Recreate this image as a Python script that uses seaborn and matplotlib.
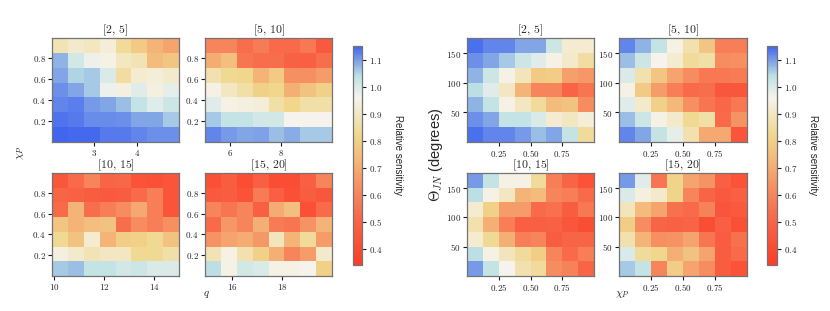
"""Relative sensitivity heatmaps binned by mass ratio q (left) and theta_JN (right)."""
import numpy as np
import pandas as pd
import matplotlib
matplotlib.use('Agg')
import matplotlib.pyplot as plt
import seaborn as sns
from matplotlib.colors import LinearSegmentedColormap

# q bins shown as panel titles
bin_titles = ['[2, 5]', '[5, 10]', '[10, 15]', '[15, 20]']
q_ranges = [(2.0, 5.0), (5.0, 10.0), (9.9, 15.0), (14.9, 20.0)]
q_ticks = [[3, 4], [6, 8], [10, 12, 14], [16, 18]]

chi_range = (0.0, 0.99)
chi_ticks = [0.2, 0.4, 0.6, 0.8]
chi_x_range = (0.0, 1.0)
chi_x_ticks = [0.25, 0.50, 0.75]
theta_range = (0.0, 176.0)
theta_ticks = [50, 100, 150]

# left group: rows = chi_p (top -> bottom), cols = q
sens_q_2_5 = [
    [0.88, 0.91, 0.90, 0.93, 0.84, 0.78, 0.72, 0.68],
    [1.08, 1.01, 0.97, 0.95, 0.90, 0.88, 0.74, 0.77],
    [1.09, 1.05, 1.06, 1.00, 0.85, 0.92, 0.93, 0.91],
    [1.11, 1.09, 1.06, 0.97, 0.94, 0.99, 0.94, 0.98],
    [1.12, 1.125, 1.10, 1.09, 1.07, 1.03, 0.99, 1.02],
    [1.135, 1.13, 1.115, 1.115, 1.11, 1.09, 1.09, 1.06],
    [1.15, 1.145, 1.145, 1.13, 1.13, 1.12, 1.11, 1.11],
]
sens_q_5_10 = [
    [0.60, 0.60, 0.53, 0.57, 0.52, 0.52, 0.56, 0.46],
    [0.70, 0.75, 0.55, 0.53, 0.53, 0.49, 0.48, 0.53],
    [0.87, 0.83, 0.82, 0.72, 0.78, 0.63, 0.63, 0.66],
    [0.95, 0.90, 0.86, 0.80, 0.82, 0.71, 0.76, 0.80],
    [0.99, 0.95, 0.94, 0.93, 0.86, 0.82, 0.86, 0.86],
    [1.06, 1.03, 1.03, 1.01, 1.01, 0.96, 0.96, 0.96],
    [1.12, 1.10, 1.09, 1.095, 1.07, 1.085, 1.06, 1.06],
]
sens_q_10_15 = [
    [0.45, 0.52, 0.60, 0.50, 0.51, 0.43, 0.42, 0.44],
    [0.50, 0.49, 0.47, 0.46, 0.47, 0.52, 0.58, 0.44],
    [0.52, 0.72, 0.53, 0.58, 0.62, 0.69, 0.58, 0.44],
    [0.77, 0.72, 0.75, 0.76, 0.53, 0.62, 0.58, 0.63],
    [0.83, 0.76, 0.92, 0.72, 0.79, 0.80, 0.83, 0.76],
    [0.94, 0.91, 0.88, 0.90, 0.90, 0.83, 0.83, 0.86],
    [1.06, 1.07, 1.03, 1.03, 1.01, 1.02, 1.00, 1.00],
]
sens_q_15_20 = [
    [0.42, 0.47, 0.41, 0.48, 0.41, 0.41, 0.48, 0.60],
    [0.46, 0.47, 0.43, 0.57, 0.48, 0.42, 0.47, 0.45],
    [0.60, 0.55, 0.60, 0.48, 0.70, 0.75, 0.42, 0.52],
    [0.52, 0.65, 0.60, 0.71, 0.57, 0.55, 0.64, 0.72],
    [0.64, 0.68, 0.70, 0.65, 0.89, 0.72, 0.84, 0.66],
    [0.88, 0.95, 0.87, 0.80, 0.71, 0.60, 0.66, 0.91],
    [1.04, 0.95, 1.01, 1.00, 0.95, 0.95, 0.96, 0.80],
]

# right group: rows = theta_JN (top -> bottom), cols = chi_p
sens_t_2_5 = [
    [1.14, 1.12, 1.12, 1.09, 1.09, 1.02, 0.92, 0.92],
    [1.11, 1.09, 1.06, 1.02, 0.99, 0.95, 0.91, 0.85],
    [1.08, 1.02, 0.95, 0.89, 0.78, 0.79, 0.67, 0.65],
    [1.04, 0.99, 0.90, 0.72, 0.60, 0.60, 0.50, 0.55],
    [1.08, 1.03, 0.95, 0.90, 0.84, 0.74, 0.76, 0.62],
    [1.11, 1.09, 1.03, 1.03, 1.00, 0.92, 0.90, 0.93],
    [1.14, 1.12, 1.12, 1.10, 1.07, 1.09, 1.03, 0.84],
]
sens_t_5_10 = [
    [1.12, 1.08, 1.03, 0.95, 0.87, 0.77, 0.58, 0.58],
    [1.07, 1.02, 0.96, 0.92, 0.84, 0.86, 0.62, 0.63],
    [1.00, 0.87, 0.77, 0.68, 0.62, 0.56, 0.56, 0.57],
    [0.95, 0.78, 0.66, 0.58, 0.52, 0.53, 0.45, 0.45],
    [0.99, 0.91, 0.80, 0.73, 0.63, 0.55, 0.51, 0.56],
    [1.07, 1.02, 0.95, 0.91, 0.83, 0.86, 0.52, 0.64],
    [1.12, 1.09, 1.03, 0.98, 0.87, 0.69, 0.69, 0.44],
]
sens_t_10_15 = [
    [1.10, 1.03, 0.95, 0.95, 0.84, 0.58, 0.50, 0.43],
    [1.04, 0.95, 0.90, 0.72, 0.74, 0.60, 0.58, 0.52],
    [0.92, 0.80, 0.66, 0.66, 0.52, 0.54, 0.47, 0.56],
    [0.87, 0.71, 0.58, 0.48, 0.48, 0.49, 0.45, 0.41],
    [0.92, 0.83, 0.71, 0.58, 0.60, 0.47, 0.50, 0.50],
    [1.04, 0.95, 0.89, 0.84, 0.79, 0.60, 0.52, 0.58],
    [1.10, 1.03, 0.96, 0.87, 0.84, 0.62, 0.59, 0.50],
]
sens_t_15_20 = [
    [1.10, 0.99, 0.55, 0.81, 0.68, 0.64, 0.48, 0.43],
    [1.00, 0.94, 0.91, 0.81, 0.60, 0.50, 0.46, 0.48],
    [0.89, 0.74, 0.68, 0.54, 0.52, 0.59, 0.44, 0.46],
    [0.79, 0.62, 0.50, 0.49, 0.50, 0.41, 0.48, 0.42],
    [0.87, 0.72, 0.63, 0.64, 0.68, 0.55, 0.47, 0.54],
    [1.00, 0.84, 0.82, 0.71, 0.76, 0.68, 0.47, 0.52],
    [1.06, 1.03, 0.60, 0.79, 0.68, 0.62, 0.47, 0.43],
]

left_data = [sens_q_2_5, sens_q_5_10, sens_q_10_15, sens_q_15_20]
right_data = [sens_t_2_5, sens_t_5_10, sens_t_10_15, sens_t_15_20]

VMIN, VMAX = 0.34, 1.15
cbar_ticks = [0.4, 0.5, 0.6, 0.7, 0.8, 0.9, 1.0, 1.1]

sns.set_theme(style='white')
plt.rcParams['font.family'] = ['Liberation Sans', 'DejaVu Sans']
plt.rcParams['mathtext.fontset'] = 'cm'

nodes = [(0.34, '#fc3d26'), (0.50, '#f86446'), (0.62, '#f68c5f'), (0.72, '#f4b478'),
         (0.82, '#f0d78c'), (0.96, '#f5f3ec'), (1.04, '#bee1e4'), (1.09, '#85a8e6'),
         (1.15, '#4065ef')]
cmap = LinearSegmentedColormap.from_list(
    'sens', [((v - VMIN) / (VMAX - VMIN), c) for v, c in nodes])

W, H = 830, 311
fig = plt.figure(figsize=(W / 100, H / 100), dpi=100)


def px_axes(x0, y0, x1, y1):
    return fig.add_axes([x0 / W, 1 - y1 / H, (x1 - x0) / W, (y1 - y0) / H])


def tex(v, fmt='{:g}'):
    return '$' + fmt.format(v) + '$'


def draw_panel(ax, data, title, xr, xt, yr, yt, xfmt='{:g}'):
    arr = np.array(data)
    nr, nc = arr.shape
    sns.heatmap(pd.DataFrame(arr), ax=ax, cmap=cmap, vmin=VMIN, vmax=VMAX,
                cbar=False, xticklabels=False, yticklabels=False)
    ax.set_xticks([(v - xr[0]) / (xr[1] - xr[0]) * nc for v in xt])
    ax.set_xticklabels([tex(v, xfmt) for v in xt])
    ax.set_yticks([(yr[1] - v) / (yr[1] - yr[0]) * nr for v in yt])
    ax.set_yticklabels([tex(v) for v in yt], rotation=0)
    ax.tick_params(axis='both', which='both', length=3, width=0.8, direction='out',
                   labelsize=6.5, pad=1.5, bottom=True, left=True, color='0.1')
    for s in ax.spines.values():
        s.set_visible(True)
        s.set_color('0.45')
        s.set_linewidth(0.9)
    ax.set_title('$' + title.replace(' ', r'\,') + '$', fontsize=8.5, pad=2)


cols_left = [(52, 179), (205, 332)]
cols_right = [(467, 594), (619, 747)]
rows = [(38, 142), (173, 276)]

mesh = None
for i in range(4):
    r, c = divmod(i, 2)
    ax = px_axes(cols_left[c][0], rows[r][0], cols_left[c][1], rows[r][1])
    draw_panel(ax, left_data[i], bin_titles[i], q_ranges[i], q_ticks[i], chi_range, chi_ticks)
    mesh = ax.collections[0]

    ax = px_axes(cols_right[c][0], rows[r][0], cols_right[c][1], rows[r][1])
    draw_panel(ax, right_data[i], bin_titles[i], chi_x_range, chi_x_ticks, theta_range,
               theta_ticks, xfmt='{:.2f}')

for x0, x1 in [(353, 362), (767, 777)]:
    cax = px_axes(x0, 46, x1, 265)
    cb = fig.colorbar(mesh, cax=cax)
    cb.set_ticks(cbar_ticks)
    cb.set_ticklabels([tex(v, '{:.1f}') for v in cbar_ticks])
    cb.ax.tick_params(labelsize=6.5, length=3, width=0.8, pad=2, color='0.1')
    cb.outline.set_edgecolor('0.45')
    cb.outline.set_linewidth(0.9)
    cb.set_label('Relative sensitivity', rotation=270, fontsize=7, labelpad=15)

fig.text(20 / W, 1 - 153 / H, r'$\chi_P$', rotation=90, fontsize=8, ha='center', va='center')
fig.text(206 / W, 1 - 295 / H, r'$q$', fontsize=8, ha='center', va='center')
fig.text(436 / W, 1 - 155 / H, r'$\Theta_{JN}$ (degrees)', rotation=90, fontsize=10.5,
         ha='center', va='center')
fig.text(622 / W, 1 - 295 / H, r'$\chi_P$', fontsize=8, ha='center', va='center')

fig.savefig('out.png', dpi=100)
